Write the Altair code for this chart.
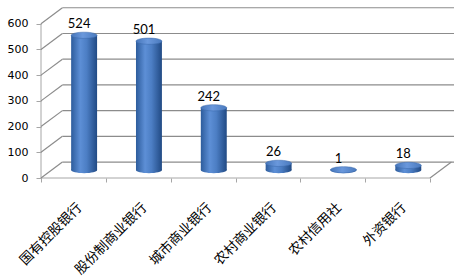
import altair as alt
import pandas as pd

# Number of institutions by bank type
categories = ["国有控股银行", "股份制商业银行", "城市商业银行", "农村商业银行", "农村信用社", "外资银行"]
counts = [524, 501, 242, 26, 1, 18]
y_ticks = [0, 100, 200, 300, 400, 500, 600]

# Pseudo 3-D box: depth offset expressed in data units
DEPTH_X = 0.33     # category units
DEPTH_Y = 62       # value units
HALF_W = 0.2       # cylinder half width, category units
X_MAX = 6.37
Y_MAX = 665
N = len(categories)

xs = alt.Scale(domain=[0, X_MAX], nice=False, zero=False)
ys = alt.Scale(domain=[0, Y_MAX], nice=False, zero=False)

GRID = "#8c8c8c"
AXIS = "#a6a6a6"

# One axis definition per channel, shared by every layer so they merge
x_axis = alt.Axis(
    values=list(range(N + 1)), labels=False, domain=False, grid=False,
    ticks=True, tickSize=4, tickColor=AXIS, title=None,
)
y_axis = alt.Axis(
    values=y_ticks, domain=False, grid=False, ticks=True, tickSize=5,
    tickColor=AXIS, labelFont="DejaVu Sans", labelFontSize=11,
    labelColor="#000000", labelPadding=8, title=None,
)


def X(field):
    return alt.X(field, type="quantitative", scale=xs, axis=x_axis, title=None)


def Y(field):
    return alt.Y(field, type="quantitative", scale=ys, axis=y_axis, title=None)


# ---- wall and floor lines -------------------------------------------------
walls = []
for v in y_ticks:
    # back wall
    walls.append({"x": DEPTH_X, "x2": X_MAX, "y": v + DEPTH_Y, "y2": v + DEPTH_Y})
    # left wall
    walls.append({"x": 0, "x2": DEPTH_X, "y": v, "y2": v + DEPTH_Y})
# right edge of the floor
walls.append({"x": N, "x2": N + DEPTH_X, "y": 0, "y2": DEPTH_Y})
walls_df = pd.DataFrame(walls)

front = pd.DataFrame([
    {"x": 0, "x2": N, "y": 0, "y2": 0},          # front floor edge
    {"x": 0, "x2": 0, "y": 0, "y2": y_ticks[-1]},  # front value axis
])

# ---- cylinders ---------------------------------------------------------------
bars = pd.DataFrame({"cat": categories, "count": counts, "i": range(N)})
bars["x"] = bars["i"] + 0.5 + DEPTH_X / 2
bars["x0"] = bars["x"] - HALF_W
bars["x1"] = bars["x"] + HALF_W
bars["base"] = DEPTH_Y / 2
bars["top"] = bars["count"] + DEPTH_Y / 2
bars["lx"] = bars["i"] + 0.5
bars["ly"] = 0

body_grad = alt.Gradient(
    gradient="linear", x1=0, x2=1, y1=0, y2=0,
    stops=[
        alt.GradientStop(color="#2d5c9c", offset=0),
        alt.GradientStop(color="#5d8fd6", offset=0.35),
        alt.GradientStop(color="#4c7ec4", offset=0.6),
        alt.GradientStop(color="#214a84", offset=1),
    ],
)
top_grad = alt.Gradient(
    gradient="linear", x1=0, x2=1, y1=0, y2=0,
    stops=[
        alt.GradientStop(color="#4676ba", offset=0),
        alt.GradientStop(color="#6a98dc", offset=0.45),
        alt.GradientStop(color="#4a7abe", offset=1),
    ],
)

k = 0.24
c = round(0.552 * k, 4)
ELLIPSE = (
    f"M-1,0 C-1,{-c} -0.552,{-k} 0,{-k} C0.552,{-k} 1,{-c} 1,0 "
    f"C1,{c} 0.552,{k} 0,{k} C-0.552,{k} -1,{c} -1,0 Z"
)
ELL_SIZE = 26 ** 2

base = alt.Chart(bars)

bottom_cap = base.mark_point(
    shape=ELLIPSE, size=ELL_SIZE, filled=True, fill=body_grad, strokeWidth=0, opacity=1
).encode(x=X("x"), y=Y("base"))

body = base.mark_bar(fill=body_grad, strokeWidth=0).encode(
    x=X("x0"), x2="x1:Q", y=Y("base"), y2="top:Q",
)

top_cap = base.mark_point(
    shape=ELLIPSE, size=ELL_SIZE, filled=True, fill=top_grad,
    stroke="#3a68aa", strokeWidth=0.5, opacity=1
).encode(x=X("x"), y=Y("top"))

value_labels = base.mark_text(
    font="Lato", fontSize=13, color="#000000", baseline="alphabetic",
    align="center", dx=-5, dy=-7
).encode(x=X("x"), y=Y("top"), text=alt.Text("count:Q"))

cat_labels = base.mark_text(
    font="Noto Sans CJK SC", fontSize=13.5, color="#000000", angle=315,
    align="right", baseline="middle", dx=-15, dy=24
).encode(x=X("lx"), y=Y("ly"), text="cat:N")

wall_lines = alt.Chart(walls_df).mark_rule(color=GRID, strokeWidth=1.2).encode(
    x=X("x"), x2="x2:Q", y=Y("y"), y2="y2:Q",
)

front_lines = alt.Chart(front).mark_rule(color=AXIS, strokeWidth=1).encode(
    x=X("x"), x2="x2:Q", y=Y("y"), y2="y2:Q",
)

chart = alt.layer(
    front_lines, wall_lines, bottom_cap, body, top_cap, value_labels, cat_labels
).properties(
    width=413, height=171,
    autosize=alt.AutoSizeParams(type="none"),
    padding={"left": 41, "top": 7, "right": 0, "bottom": 99},
    background="#ffffff",
).configure_view(stroke=None)

chart.save("out.html", embed_options={"renderer": "svg", "actions": False})
